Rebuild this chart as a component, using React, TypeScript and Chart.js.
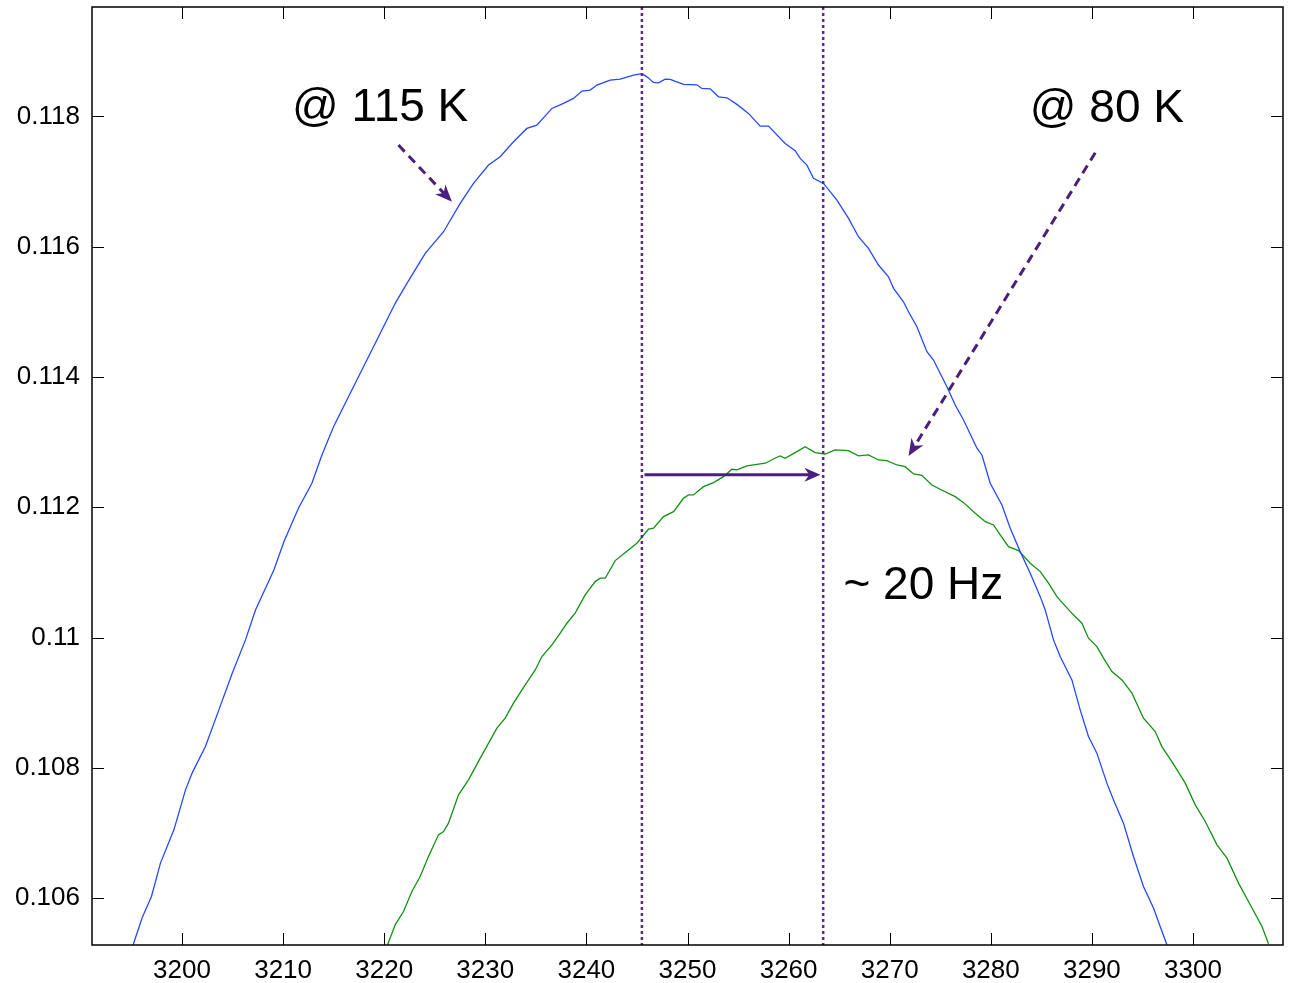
import React, { useEffect, useRef } from "react";
import { Chart, registerables } from "chart.js";

Chart.register(...registerables);

// ---- axis limits & ticks ----
const xMin = 3191.1;
const xMax = 3308.9;
const yMin = 0.10528;
const yMax = 0.11968;
const xTicks = [3200, 3210, 3220, 3230, 3240, 3250, 3260, 3270, 3280, 3290, 3300];
const xTickLabels = ["3200", "3210", "3220", "3230", "3240", "3250", "3260", "3270", "3280", "3290", "3300"];
const yTicks = [0.106, 0.108, 0.11, 0.112, 0.114, 0.116, 0.118];
const yTickLabels = ["0.106", "0.108", "0.11", "0.112", "0.114", "0.116", "0.118"];

// ---- series: @ 115 K (blue) ----
const blueX = [3195.17, 3196.06, 3196.98, 3197.87, 3199.2, 3200.35, 3201.01, 3202.32, 3203.65, 3204.97, 3206.28, 3207.27, 3209.09, 3210.08, 3211.52, 3212.85, 3213.84, 3214.99, 3216.31, 3217.95, 3219.28, 3221.09, 3222.25, 3224.06, 3225.87, 3227.52, 3228.83, 3230.32, 3231.47, 3232.79, 3234.11, 3235.1, 3236.59, 3237.73, 3238.72, 3239.56, 3240.38, 3241.04, 3242.35, 3243.34, 3244.66, 3245.49, 3245.98, 3246.64, 3247.13, 3247.79, 3248.29, 3249.6, 3250.93, 3251.42, 3252.25, 3253.07, 3253.9, 3254.89, 3256.03, 3257.19, 3258.01, 3259.66, 3260.65, 3261.15, 3261.81, 3262.46, 3263.45, 3264.78, 3265.93, 3266.91, 3267.9, 3268.89, 3269.88, 3270.38, 3271.36, 3271.86, 3272.69, 3273.68, 3274.33, 3275.66, 3276.48, 3277.3, 3278.63, 3279.12, 3279.94, 3281.1, 3281.92, 3282.91, 3283.9, 3284.89, 3285.38, 3286.2, 3286.86, 3288.02, 3288.84, 3289.66, 3290.49, 3291.48, 3292.13, 3293.12, 3294.11, 3295.1, 3296.09, 3296.75, 3297.42];
const blueY = [0.105283, 0.105698, 0.106025, 0.106537, 0.107048, 0.107662, 0.107923, 0.108326, 0.10889, 0.109453, 0.109964, 0.110424, 0.111038, 0.111472, 0.111985, 0.112369, 0.112803, 0.113237, 0.113647, 0.114158, 0.114568, 0.115131, 0.115438, 0.115898, 0.11623, 0.116665, 0.116972, 0.117253, 0.117381, 0.117611, 0.117816, 0.117867, 0.118123, 0.1182, 0.118277, 0.118389, 0.118404, 0.118481, 0.118558, 0.118573, 0.118634, 0.118657, 0.118608, 0.118522, 0.118516, 0.118573, 0.118568, 0.118492, 0.118486, 0.11843, 0.118424, 0.118301, 0.118286, 0.118185, 0.118047, 0.117852, 0.117852, 0.117586, 0.117473, 0.117356, 0.117253, 0.117049, 0.116972, 0.116716, 0.116435, 0.116153, 0.115975, 0.115719, 0.115539, 0.115361, 0.115155, 0.115002, 0.114772, 0.114388, 0.114261, 0.113851, 0.11357, 0.11334, 0.112906, 0.112803, 0.112369, 0.112036, 0.111678, 0.111319, 0.110987, 0.110628, 0.110424, 0.109964, 0.109708, 0.10935, 0.10889, 0.10848, 0.108225, 0.107765, 0.107509, 0.107151, 0.106638, 0.106178, 0.105847, 0.105564, 0.105283];

// ---- series: @ 80 K (green) ----
const greenX = [3220.33, 3221.09, 3221.91, 3222.74, 3223.56, 3224.38, 3225.37, 3225.87, 3226.36, 3227.35, 3228.34, 3229.5, 3231.15, 3231.97, 3232.79, 3233.95, 3234.94, 3235.6, 3236.59, 3237.41, 3238.07, 3238.89, 3239.88, 3240.87, 3241.36, 3241.86, 3242.85, 3244.16, 3244.99, 3246.14, 3246.64, 3247.63, 3248.62, 3249.6, 3250.1, 3250.59, 3251.58, 3252.57, 3253.56, 3254.39, 3254.89, 3255.88, 3256.87, 3257.69, 3258.84, 3259.17, 3259.66, 3260.82, 3261.64, 3262.63, 3263.62, 3264.61, 3265.93, 3266.91, 3267.9, 3268.89, 3269.72, 3270.71, 3271.53, 3272.36, 3273.18, 3274.17, 3274.99, 3276.48, 3277.3, 3278.46, 3279.45, 3280.27, 3280.93, 3281.75, 3282.74, 3283.9, 3284.89, 3285.71, 3286.54, 3287.86, 3289.01, 3289.66, 3290.49, 3291.15, 3291.98, 3292.97, 3293.96, 3295.1, 3296.26, 3296.92, 3297.91, 3299.23, 3300.22, 3301.21, 3302.37, 3303.36, 3304.5, 3305.66, 3306.82, 3307.47];
const greenY = [0.105283, 0.10559, 0.105794, 0.106101, 0.106331, 0.106638, 0.106971, 0.107022, 0.107151, 0.107585, 0.107815, 0.108148, 0.108609, 0.108762, 0.108992, 0.109273, 0.109503, 0.109708, 0.109887, 0.110067, 0.11022, 0.110374, 0.110654, 0.110859, 0.110911, 0.110911, 0.111181, 0.111345, 0.111448, 0.111663, 0.111678, 0.111856, 0.111933, 0.112138, 0.112189, 0.112189, 0.112316, 0.112378, 0.11247, 0.112583, 0.112573, 0.112634, 0.11266, 0.112676, 0.112768, 0.112788, 0.112752, 0.112854, 0.11293, 0.112838, 0.112818, 0.11288, 0.112869, 0.112788, 0.112803, 0.112726, 0.112715, 0.112649, 0.112623, 0.112511, 0.112491, 0.112342, 0.112277, 0.112163, 0.112071, 0.111908, 0.111779, 0.111729, 0.111575, 0.111396, 0.111334, 0.111141, 0.111012, 0.110834, 0.110628, 0.110398, 0.11022, 0.10999, 0.109861, 0.109683, 0.109477, 0.10935, 0.109146, 0.108762, 0.108557, 0.108326, 0.108096, 0.107765, 0.107432, 0.107176, 0.106818, 0.106614, 0.10623, 0.105897, 0.105564, 0.105299];

// ---- annotations (data coordinates) ----
const markerX = [3245.49, 3263.42];
const shiftArrow = [3245.75, 0.1125, 3263.15, 0.1125];
const dashedArrows = [
  [3221.41, 0.11756, 3226.7, 0.11669],
  [3290.33, 0.117442, 3271.86, 0.112788],
];
const labelTexts = ["@ 115 K", "@ 80 K", "~ 20 Hz"];
const labelX = [3219.6, 3291.48, 3273.33];
const labelY = [0.117928, 0.117918, 0.110594];

const FONT = '"Liberation Sans", Arial, Helvetica, sans-serif';
const PURPLE = "#4b1f7e";
const DOTTED = "#5b2a8c";

function zip(xs: number[], ys: number[]) {
  const n = Math.min(xs.length, ys.length);
  const out: { x: number; y: number }[] = [];
  for (let i = 0; i < n; i++) out.push({ x: xs[i], y: ys[i] });
  return out;
}

function drawArrow(
  ctx: CanvasRenderingContext2D,
  x1: number, y1: number, x2: number, y2: number,
  width: number, dash: number[], headLen: number, headHalf: number
) {
  const dx = x2 - x1, dy = y2 - y1;
  const len = Math.hypot(dx, dy);
  const ux = dx / len, uy = dy / len;
  const nx = -uy, ny = ux;
  const bx = x2 - ux * headLen, by = y2 - uy * headLen;
  const notchX = bx + ux * headLen * 0.3, notchY = by + uy * headLen * 0.3;
  ctx.lineWidth = width;
  ctx.setLineDash(dash);
  ctx.beginPath();
  ctx.moveTo(x1, y1);
  ctx.lineTo(notchX, notchY);
  ctx.stroke();
  ctx.setLineDash([]);
  ctx.beginPath();
  ctx.moveTo(x2, y2);
  ctx.lineTo(bx + nx * headHalf, by + ny * headHalf);
  ctx.lineTo(notchX, notchY);
  ctx.lineTo(bx - nx * headHalf, by - ny * headHalf);
  ctx.closePath();
  ctx.fill();
}

const overlayPlugin = {
  id: "overlay",
  afterDatasetsDraw(chart: any) {
    const { ctx, chartArea: a, scales } = chart;
    const xs = scales.x, ys = scales.y;
    ctx.save();

    // dotted vertical markers
    ctx.strokeStyle = DOTTED;
    ctx.lineWidth = 2.5;
    ctx.setLineDash([3, 3]);
    markerX.forEach((v) => {
      const px = xs.getPixelForValue(v);
      ctx.beginPath();
      ctx.moveTo(px, a.top);
      ctx.lineTo(px, a.bottom);
      ctx.stroke();
    });
    ctx.setLineDash([]);

    // arrows
    ctx.strokeStyle = PURPLE;
    ctx.fillStyle = PURPLE;
    drawArrow(
      ctx,
      xs.getPixelForValue(shiftArrow[0]), ys.getPixelForValue(shiftArrow[1]),
      xs.getPixelForValue(shiftArrow[2]), ys.getPixelForValue(shiftArrow[3]),
      3, [], 16, 7
    );
    dashedArrows.forEach((d) => {
      drawArrow(
        ctx,
        xs.getPixelForValue(d[0]), ys.getPixelForValue(d[1]),
        xs.getPixelForValue(d[2]), ys.getPixelForValue(d[3]),
        3, [9, 6], 17, 7
      );
    });

    // text labels
    ctx.fillStyle = "#000";
    ctx.font = `46px ${FONT}`;
    ctx.textAlign = "center";
    ctx.textBaseline = "alphabetic";
    labelTexts.forEach((t, i) => {
      ctx.fillText(t, xs.getPixelForValue(labelX[i]), ys.getPixelForValue(labelY[i]));
    });

    // box + inward ticks
    ctx.strokeStyle = "#000";
    ctx.lineWidth = 1;
    const tl = 12;
    xTicks.forEach((v) => {
      const px = Math.round(xs.getPixelForValue(v)) + 0.5;
      ctx.beginPath();
      ctx.moveTo(px, a.bottom);
      ctx.lineTo(px, a.bottom - tl);
      ctx.moveTo(px, a.top);
      ctx.lineTo(px, a.top + tl);
      ctx.stroke();
    });
    yTicks.forEach((v) => {
      const py = Math.round(ys.getPixelForValue(v)) + 0.5;
      ctx.beginPath();
      ctx.moveTo(a.left, py);
      ctx.lineTo(a.left + tl, py);
      ctx.moveTo(a.right, py);
      ctx.lineTo(a.right - tl, py);
      ctx.stroke();
    });
    ctx.lineWidth = 1.5;
    ctx.strokeRect(a.left, a.top, a.right - a.left, a.bottom - a.top);
    ctx.restore();
  },
};

export default function App() {
  const ref = useRef<HTMLCanvasElement | null>(null);

  useEffect(() => {
    if (!ref.current) return;
    const chart = new Chart(ref.current, {
      type: "line",
      data: {
        datasets: [
          {
            label: "@ 115 K",
            data: zip(blueX, blueY),
            borderColor: "#2548ff",
            borderWidth: 1.3,
            pointRadius: 0,
            tension: 0,
            fill: false,
          },
          {
            label: "@ 80 K",
            data: zip(greenX, greenY),
            borderColor: "#139013",
            borderWidth: 1.3,
            pointRadius: 0,
            tension: 0,
            fill: false,
          },
        ],
      },
      options: {
        animation: false,
        responsive: false,
        devicePixelRatio: 1,
        layout: { padding: { top: 7, right: 6, left: 0, bottom: 0 } },
        plugins: { legend: { display: false }, tooltip: { enabled: false } },
        scales: {
          x: {
            type: "linear",
            min: xMin,
            max: xMax,
            afterBuildTicks: (s: any) => {
              s.ticks = xTicks.map((v) => ({ value: v }));
            },
            afterFit: (s: any) => {
              s.height = 38;
              s.paddingLeft = 0;
              s.paddingRight = 0;
              s.paddingTop = 0;
              s.paddingBottom = 0;
            },
            grid: { display: false, drawTicks: false, tickLength: 0 },
            border: { display: false },
            ticks: {
              color: "#000",
              font: { family: FONT, size: 26 },
              padding: 10,
              maxRotation: 0,
              autoSkip: false,
              callback: (_v: any, i: number) => xTickLabels[i],
            },
          },
          y: {
            type: "linear",
            min: yMin,
            max: yMax,
            afterBuildTicks: (s: any) => {
              s.ticks = yTicks.map((v) => ({ value: v }));
            },
            afterFit: (s: any) => {
              s.width = 92;
              s.paddingLeft = 0;
              s.paddingRight = 0;
              s.paddingTop = 0;
              s.paddingBottom = 0;
            },
            grid: { display: false, drawTicks: false, tickLength: 0 },
            border: { display: false },
            ticks: {
              color: "#000",
              font: { family: FONT, size: 26 },
              padding: 12,
              autoSkip: false,
              callback: (_v: any, i: number) => yTickLabels[i],
            },
          },
        },
      },
      plugins: [overlayPlugin],
    } as any);
    return () => chart.destroy();
  }, []);

  return (
    <div style={{ position: "fixed", left: 0, top: 0, width: 1289, height: 983, background: "#fff" }}>
      <canvas ref={ref} width={1289} height={983} style={{ display: "block", width: 1289, height: 983 }} />
    </div>
  );
}
